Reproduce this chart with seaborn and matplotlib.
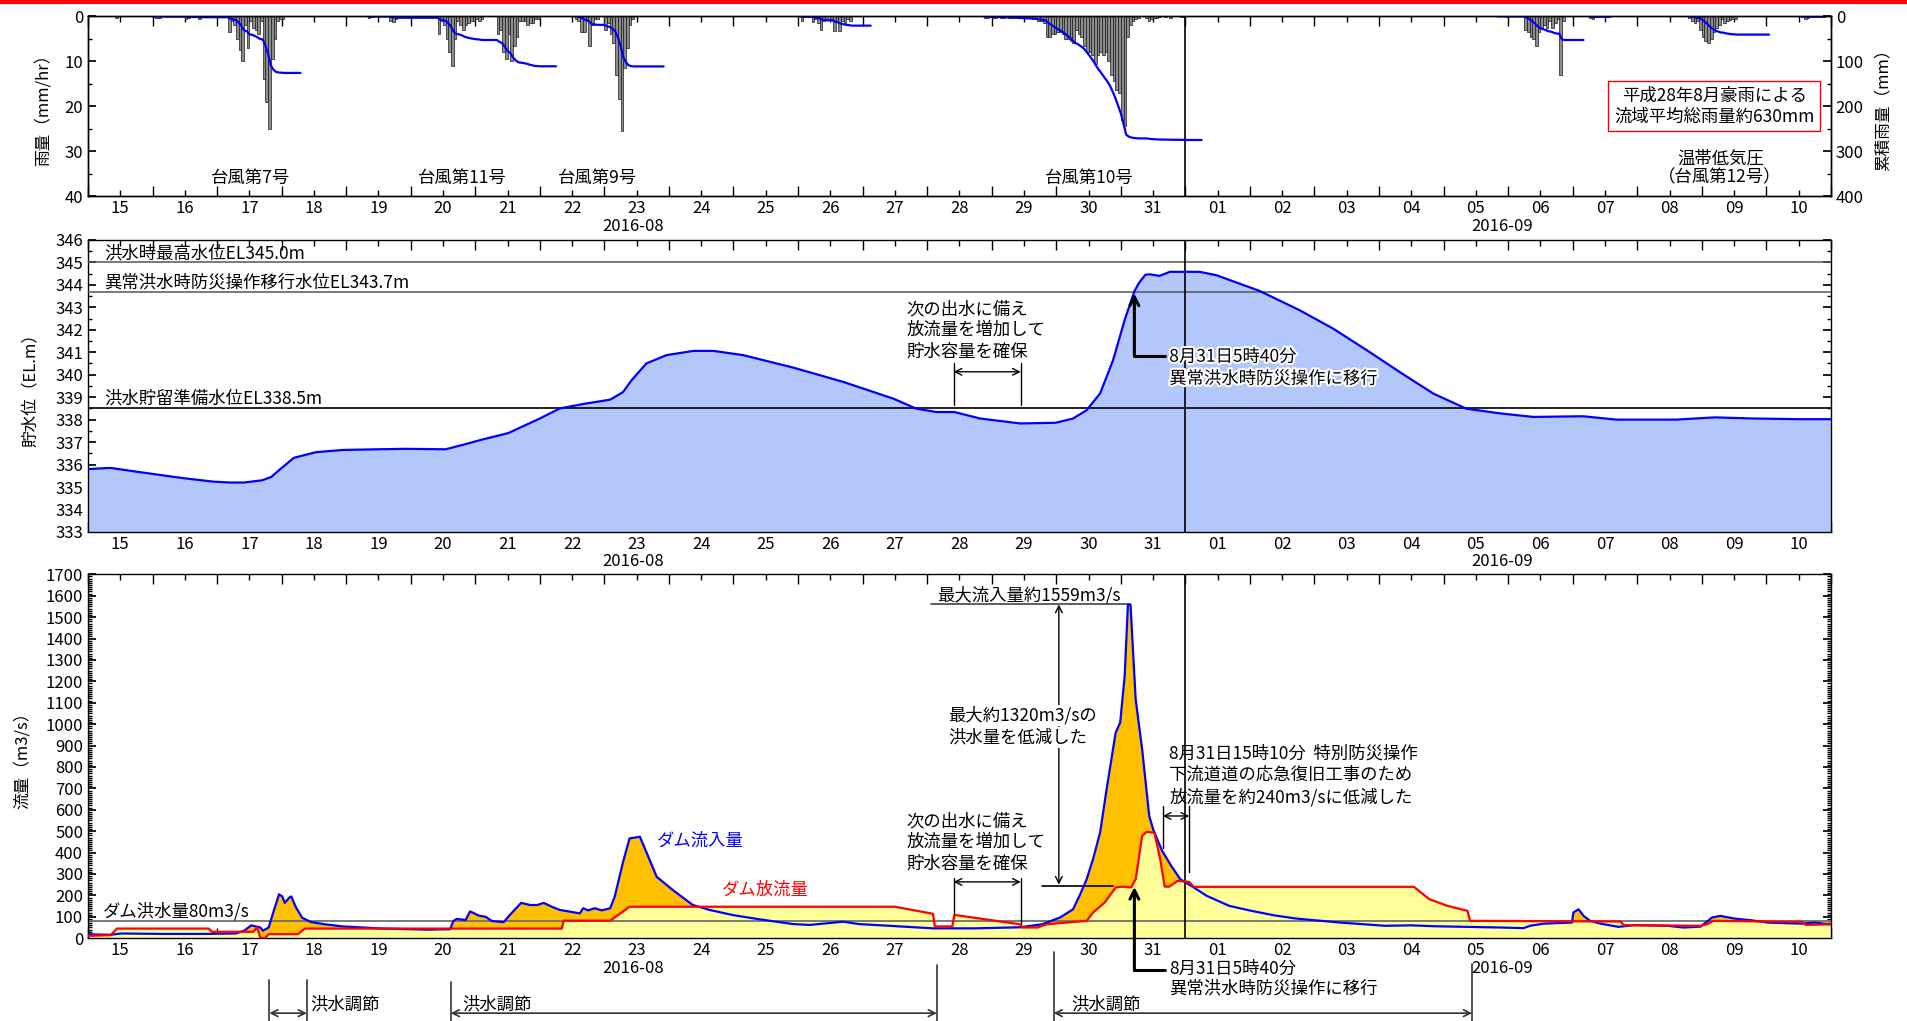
import numpy as np
import pandas as pd
import matplotlib
matplotlib.use("Agg")
import matplotlib.pyplot as plt
import matplotlib.dates as mdates
import matplotlib.ticker as ticker
import matplotlib.patheffects as pe
from matplotlib.lines import Line2D
import seaborn as sns

# ---- data (times are "day of August": 15.0 = Aug 15 00:00, 32.0 = Sep 1 00:00) ----

# hourly basin rainfall (mm/hr), one list per rain event, with event start time
rain_0815_start = 15 + 10 / 24
rain_0815 = [0.3]
typhoon7_start = 16.0
typhoon7 = [0, 0.3, 0.3, 0, 0, 0, 0, 0, 0, 0, 0, 0, 0.5, 0.4, 0, 0, 0, 0.5, 0, 0,
            0, 0, 0, 0, 0, 0, 0, 0,
            3.5, 1, 2, 5, 7.5, 10, 2, 7, 1, 2.5, 3, 4, 1, 14, 19, 25, 9.5, 5, 1, 0.5, 0.5,
            0, 0, 0, 0, 0, 0]
typhoon11_start = 19 + 8 / 24
typhoon11 = [0.3, 0.2, 0, 0, 0, 0, 0, 0, 1.0, 1.2, 0.5,
             0, 0, 0, 0, 0, 0, 0, 0, 0, 0, 0, 0, 0, 0, 0,
             4, 1, 2, 5, 8, 11, 5, 1, 2, 3, 2, 1.5, 1, 1, 0.5, 1, 0.5,
             0, 0, 0, 0, 0,
             4, 3, 8, 9.5, 4, 10, 6.5, 4.5, 1, 1, 1, 2, 1.5, 1.5, 0.5, 0.5,
             0, 0, 0, 0, 0, 0]
typhoon9_start = 22 + 13 / 24
typhoon9 = [0.5, 1, 3.5, 3.5, 1, 6.5, 2, 0.5, 0.5, 0, 0, 3, 1.5, 4, 6, 13, 18.5, 25.5,
            11.5, 7, 2, 0.5, 0, 0, 0, 0, 0, 0, 0, 0, 0, 0, 0]
rain_0826_start = 26 + 1 / 24
rain_0826 = [1, 0, 0, 0, 1.3, 0.5, 1.5, 3, 1, 0.5, 0, 0.5, 3.2, 1, 3.2, 1, 1.5, 0.5, 1,
             0, 0, 0, 0, 0, 0, 0]
typhoon10_start = 28 + 21 / 24
typhoon10 = [0.3, 0.3, 0.2, 0.3, 0.3, 0.2, 0.3, 0.3, 0.2, 0.3, 0.3, 0.2, 0.3, 0.3, 0.2,
             0.3, 0.3, 0.3,
             0.5, 0.5, 1, 1, 1.5, 4.5, 4.5, 4, 4, 3.5, 3.5, 4, 5, 5, 5.5, 6, 3, 4, 4.5,
             6.5, 8, 8, 8.5, 10.5, 8.5, 8, 8.5, 8, 10, 13, 14.5, 16.5, 17, 23, 24.5,
             4.5, 2, 1,
             0.5, 0.3, 0, 0, 0.3, 1, 0.5, 0.3, 0.3, 0.2, 0, 0.2, 0, 0.3, 0, 0, 0, 0.2,
             0.2, 0, 0, 0, 0, 0, 0]
rain_0906_start = 36 + 20 / 24
rain_0906 = [0, 0, 0, 0.2, 0, 0, 0, 0, 0, 0, 3, 3.5, 4.5, 5, 6.5, 3.5, 2.5, 2, 2.5, 1,
             2.5, 1.5, 0.5, 13, 1, 0, 0, 0, 0, 0, 0, 0]
rain_0907_start = 38 + 6 / 24
rain_0907 = [0.3, 0.5, 0.2, 0, 0, 0, 0, 0]
rain_0908_start = 39 + 19 / 24
rain_0908 = [0.3, 1, 1.5, 1, 3, 4.5, 5.5, 6, 5, 3.5, 2.5, 2, 0.5, 1.5, 1, 0.8, 0.5, 0.5,
             0, 0, 0, 0, 0, 0, 0, 0, 0, 0, 0, 0]
rain_0910_start = 41 + 13 / 24
rain_0910 = [0.2, 0.5, 0.3, 0, 0, 0, 0, 0, 0]

# reservoir water level (EL.m)
level_day = [15.0, 15.35, 15.76, 16.46, 16.94, 17.2, 17.42, 17.70, 17.84, 17.98, 18.19,
             18.53, 18.95, 19.5, 19.92, 20.54, 20.81, 21.09, 21.51, 22.0, 22.31, 22.68,
             23.09, 23.29, 23.42, 23.65, 23.96, 24.38, 24.69, 25.15, 25.92, 26.70, 27.47,
             27.83, 28.14, 28.42, 28.82, 29.44, 29.99, 30.26, 30.47, 30.68, 30.88, 31.06,
             31.21, 31.28, 31.38, 31.45, 31.6, 31.76, 32.22, 32.48, 33.15, 33.77, 34.29,
             34.81, 35.32, 35.84, 36.35, 36.87, 37.39, 38.16, 38.68, 39.2, 39.6, 40.2,
             40.8, 41.5, 42.0]
level = [335.8, 335.85, 335.68, 335.4, 335.24, 335.2, 335.2, 335.3, 335.45, 335.8, 336.3,
         336.55, 336.65, 336.68, 336.7, 336.68, 336.88, 337.1, 337.4, 338.05, 338.5, 338.7,
         338.89, 339.23, 339.75, 340.5, 340.87, 341.06, 341.06, 340.87, 340.32, 339.68,
         338.94, 338.49, 338.34, 338.34, 338.05, 337.83, 337.86, 338.05, 338.42, 339.17,
         340.65, 342.44, 343.71, 344.08, 344.45, 344.47, 344.4, 344.58, 344.58, 344.43,
         343.73, 342.87, 342.05, 341.09, 340.12, 339.16, 338.49, 338.28, 338.12, 338.15,
         338.0, 338.0, 338.0, 338.1, 338.05, 338.02, 338.02]

# dam inflow (m3/s)
inflow_day = [15.0, 15.35, 15.52, 16.11, 16.80, 17.29, 17.42, 17.53, 17.60, 17.67, 17.71,
              17.80, 17.87, 17.96, 18.01, 18.05, 18.12, 18.15, 18.22, 18.32, 18.46, 18.67,
              18.95, 19.57, 20.26, 20.61, 20.66, 20.71, 20.85, 20.92, 20.99, 21.06, 21.16,
              21.26, 21.44, 21.54, 21.71, 21.85, 21.96, 22.06, 22.20, 22.31, 22.62, 22.67,
              22.75, 22.85, 22.96, 23.09, 23.16, 23.29, 23.39, 23.47, 23.55, 23.68, 23.81,
              24.06, 24.37, 24.63, 24.99, 25.41, 25.92, 26.18, 26.70, 26.94, 27.47, 28.09,
              28.74, 29.44, 29.78, 30.06, 30.26, 30.37, 30.47, 30.57, 30.68, 30.78, 30.92,
              30.99, 31.06, 31.11, 31.15, 31.23, 31.33, 31.44, 31.50, 31.64, 31.78, 31.92,
              32.13, 32.33, 32.68, 33.02, 33.37, 33.71, 34.40, 35.09, 35.5, 35.84, 36.35,
              36.87, 37.24, 37.34, 37.55, 37.99, 38.01, 38.09, 38.17, 38.27, 38.43, 38.71,
              38.95, 39.46, 39.72, 39.98, 40.16, 40.29, 40.5, 40.76, 41.02, 41.54, 41.74,
              42.0]
inflow = [18, 16, 22, 20, 20, 22, 35, 60, 55, 50, 35,
          50, 120, 205, 195, 165, 190, 195, 145, 95, 75, 65,
          55, 45, 40, 42, 80, 90, 85, 125, 115, 105, 100,
          80, 75, 110, 165, 155, 155, 165, 145, 132, 116, 140,
          130, 140, 130, 140, 194, 357, 466, 470, 474, 381, 287,
          225, 155, 132, 108, 88, 66, 62, 77, 66, 57, 46,
          46, 51, 65, 97, 135, 205, 275, 370, 495, 696, 960,
          1007, 1225, 1559, 1559, 1116, 883, 571, 509, 408, 338, 276,
          237, 198, 151, 128, 107, 92, 73, 58, 60, 56, 53,
          50, 47, 58, 68, 73, 120, 135, 104, 81, 68, 53,
          61, 58, 50, 54, 97, 104, 92, 84, 73, 68, 73,
          65]

# dam outflow (m3/s)
outflow_day = [15.0, 15.35, 15.45, 16.87, 16.92, 17.56, 17.62, 17.67, 17.74, 17.80, 18.25,
               18.36, 22.34, 22.37, 23.09, 23.39, 27.5, 28.09, 28.12, 28.39, 28.42, 28.95,
               29.44, 29.47, 29.71, 29.85, 30.47, 30.57, 30.75, 30.92, 31.02, 31.16, 31.23,
               31.33, 31.40, 31.52, 31.61, 31.68, 31.75, 31.88, 32.06, 32.13, 35.54, 35.78,
               36.06, 36.37, 36.41, 38.74, 38.79, 39.98, 40.08, 40.18, 41.56, 41.61, 42.0]
outflow = [11, 14, 45, 45, 30, 30, 50, 3, 0, 19, 19,
           45, 45, 82, 82, 147, 147, 114, 55, 55, 109, 86,
           65, 50, 50, 65, 81, 120, 167, 237, 241, 237, 276,
           478, 497, 493, 369, 241, 241, 268, 263, 240, 240, 182,
           151, 128, 81, 78, 61, 58, 65, 81, 76, 62, 65]

FS = 12.5
BASE = mdates.date2num(pd.Timestamp("2016-07-31"))


def t(d):
    return BASE + np.asarray(d, dtype=float)


sns.set_theme(style="white")
plt.rcParams['font.family'] = ['Noto Sans CJK JP', 'DejaVu Sans']
plt.rcParams.update({'text.color': 'black', 'axes.labelcolor': 'black',
                     'xtick.color': 'black', 'ytick.color': 'black',
                     'axes.edgecolor': 'black', 'axes.linewidth': 1.0,
                     'axes.unicode_minus': False})

fig = plt.figure(figsize=(19.08, 10.21), dpi=100)
L, W = 0.0461, 0.9135
ax1 = fig.add_axes([L, 0.808, W, 0.176])
ax2 = fig.add_axes([L, 0.479, W, 0.286], sharex=ax1)
ax3 = fig.add_axes([L, 0.0811, W, 0.3564], sharex=ax1)
ax1r = ax1.twinx()

fig.add_artist(Line2D([0, 1], [0.9985, 0.9985], color='red', lw=3, transform=fig.transFigure))
NOW = 32.0

# ---- rainfall ----
events = [(rain_0815_start, rain_0815), (typhoon7_start, typhoon7),
          (typhoon11_start, typhoon11), (typhoon9_start, typhoon9),
          (rain_0826_start, rain_0826), (typhoon10_start, typhoon10),
          (rain_0906_start, rain_0906), (rain_0907_start, rain_0907),
          (rain_0908_start, rain_0908), (rain_0910_start, rain_0910)]
for start, vals in events:
    vals = np.array(vals, dtype=float)
    hrs = np.arange(len(vals))
    ax1.bar(t(start + hrs / 24 + 1 / 48), vals, width=1 / 24, color='#8c8c8c',
            edgecolor='#1a1a1a', linewidth=0.5, zorder=2)
    if len(vals) > 1:
        cum = np.concatenate([[0], np.cumsum(vals)])
        sns.lineplot(x=t(start + np.arange(len(vals) + 1) / 24), y=cum, ax=ax1r,
                     color='#0000ff', lw=1.6)

ax1.set_ylim(40, 0)
ax1r.set_ylim(400, 0)
ax1.yaxis.set_major_locator(ticker.MultipleLocator(10))
ax1.yaxis.set_minor_locator(ticker.MultipleLocator(5))
ax1r.yaxis.set_major_locator(ticker.MultipleLocator(100))
ax1r.yaxis.set_minor_locator(ticker.MultipleLocator(50))
ax1.set_ylabel('雨量（mm/hr）', fontsize=12)
ax1r.set_ylabel('累積雨量（mm）', fontsize=12)
ax1.yaxis.set_label_coords(-0.021, 0.5)
ax1r.yaxis.set_label_coords(1.025, 0.5)
ax1.axvline(t(NOW), color='black', lw=1.2, zorder=3)

for x, y, s in [(17.52, 35.9, '台風第7号'), (20.80, 35.9, '台風第11号'),
                (22.90, 35.9, '台風第9号'), (30.51, 35.9, '台風第10号'),
                (40.29, 31.6, '温帯低気圧'), (40.27, 35.9, '（台風第12号）')]:
    ax1.text(t(x), y, s, ha='center', va='center', fontsize=FS)
ax1.text(0.933, 0.5, '平成28年8月豪雨による\n流域平均総雨量約630mm', transform=ax1.transAxes,
         ha='center', va='center', fontsize=FS, linespacing=1.2,
         bbox=dict(facecolor='white', edgecolor='red', lw=1.0, pad=4), zorder=5)

# ---- water level ----
ax2.fill_between(t(level_day), 333, level, color='#b4c7fa', lw=0, zorder=1)
sns.lineplot(x=t(level_day), y=level, ax=ax2, color='#0000ff', lw=1.6, zorder=4)
ax2.axhline(345.0, color='#555555', lw=1.1, zorder=3)
ax2.axhline(343.7, color='#555555', lw=1.1, zorder=3)
ax2.axhline(338.5, color='black', lw=1.2, zorder=3)
ax2.axvline(t(NOW), color='black', lw=1.2, zorder=3)
ax2.set_ylim(333, 346)
ax2.yaxis.set_major_locator(ticker.MultipleLocator(1))
ax2.yaxis.set_minor_locator(ticker.MultipleLocator(0.5))
ax2.set_ylabel('貯水位（EL.m）', fontsize=12)
ax2.yaxis.set_label_coords(-0.028, 0.5)

ax2.text(t(15.25), 345.42, '洪水時最高水位EL345.0m', va='center', fontsize=FS)
ax2.text(t(15.25), 344.12, '異常洪水時防災操作移行水位EL343.7m', va='center', fontsize=FS)
ax2.text(t(15.25), 338.96, '洪水貯留準備水位EL338.5m', va='center', fontsize=FS)
for y, s in zip([342.91, 341.99, 341.02], ['次の出水に備え', '放流量を増加して', '貯水容量を確保']):
    ax2.text(t(27.68), y, s, va='center', fontsize=FS)
arw = dict(arrowstyle='<->', color='black', lw=1.0, shrinkA=0, shrinkB=0, mutation_scale=12)
ax2.annotate('', xy=(t(29.45), 340.13), xytext=(t(28.41), 340.13), arrowprops=arw)
ax2.plot([t(28.41)] * 2, [338.65, 340.5], color='black', lw=1.0)
ax2.plot([t(29.45)] * 2, [338.65, 340.5], color='black', lw=1.0)
thick = dict(arrowstyle='->', color='black', lw=2.2, shrinkA=0, shrinkB=0, mutation_scale=16)
ax2.annotate('', xy=(t(31.21), 343.62), xytext=(t(31.21), 340.85), arrowprops=thick, zorder=6)
ax2.plot([t(31.21), t(31.68)], [340.85] * 2, color='black', lw=2.2, zorder=6)
halo = [pe.withStroke(linewidth=3, foreground='white')]
ax2.text(t(31.75), 340.8, '8月31日5時40分', va='center', fontsize=FS, path_effects=halo, zorder=7)
ax2.text(t(31.75), 339.82, '異常洪水時防災操作に移行', va='center', fontsize=FS,
         path_effects=halo, zorder=7)

# ---- inflow / outflow ----
ax3.fill_between(t(inflow_day), 0, inflow, color='#ffc000', lw=0, zorder=1)
ax3.fill_between(t(outflow_day), 0, outflow, color='#ffff99', lw=0, zorder=1.5)
ax3.axhline(80, color='#707070', lw=1.3, zorder=2)
sns.lineplot(x=t(inflow_day), y=inflow, ax=ax3, color='#0000ff', lw=1.6, zorder=4)
sns.lineplot(x=t(outflow_day), y=outflow, ax=ax3, color='#ff0000', lw=1.6, zorder=4)
ax3.axvline(t(NOW), color='black', lw=1.2, zorder=3)
ax3.set_ylim(0, 1700)
ax3.yaxis.set_major_locator(ticker.MultipleLocator(100))
ax3.yaxis.set_minor_locator(ticker.MultipleLocator(10))
ax3.set_ylabel('流量（m3/s）', fontsize=12)
ax3.yaxis.set_label_coords(-0.033, 0.5)

ax3.text(t(23.82), 455, 'ダム流入量', color='#0000ff', va='center', fontsize=FS)
ax3.text(t(24.82), 227, 'ダム放流量', color='#ff0000', va='center', fontsize=FS)
ax3.text(t(15.23), 125, 'ダム洪水量80m3/s', va='center', fontsize=FS)
ax3.text(t(28.15), 1603, '最大流入量約1559m3/s', va='center', fontsize=FS)
ax3.plot([t(28.06), t(31.12)], [1559, 1559], color='#444444', lw=1.2, zorder=3)
ax3.plot([t(29.78), t(30.88)], [244, 244], color='black', lw=1.2, zorder=3)
ax3.annotate('', xy=(t(30.04), 1559), xytext=(t(30.04), 250), arrowprops=arw, zorder=4)
for y, s in zip([1040, 938], ['最大約1320m3/sの', '洪水量を低減した']):
    ax3.text(t(28.32), y, s, va='center', fontsize=FS, zorder=6,
             bbox=dict(facecolor='white', edgecolor='none', pad=1))
for y, s in zip([546, 449, 347], ['次の出水に備え', '放流量を増加して', '貯水容量を確保']):
    ax3.text(t(27.68), y, s, va='center', fontsize=FS)
ax3.annotate('', xy=(t(29.45), 263), xytext=(t(28.41), 263), arrowprops=arw)
ax3.plot([t(28.41)] * 2, [96, 283], color='black', lw=1.0)
ax3.plot([t(29.45)] * 2, [57, 283], color='black', lw=1.0)
for y, s in zip([864, 762, 659], ['8月31日15時10分  特別防災操作', '下流道道の応急復旧工事のため',
                                  '放流量を約240m3/sに低減した']):
    ax3.text(t(31.75), y, s, va='center', fontsize=FS)
ax3.annotate('', xy=(t(32.06), 571), xytext=(t(31.65), 571), arrowprops=arw)
ax3.plot([t(31.65)] * 2, [423, 618], color='black', lw=1.0)
ax3.plot([t(32.06)] * 2, [307, 618], color='black', lw=1.0)

# below-axis notes
tr = ax3.get_xaxis_transform()
ax3.annotate('', xy=(t(31.21), 240), xycoords='data', xytext=(t(31.21), -0.088),
             textcoords=tr, arrowprops=thick, annotation_clip=False, zorder=6)
ax3.plot([t(31.21), t(31.68)], [-0.088, -0.088], transform=tr, clip_on=False,
         color='black', lw=2.2)
ax3.text(t(31.75), -0.0835, '8月31日5時40分', transform=tr, va='center', fontsize=FS)
ax3.text(t(31.75), -0.137, '異常洪水時防災操作に移行', transform=tr, va='center', fontsize=FS)

for x0, x1, top0, top1, xt in [(17.81, 18.39, -0.115, -0.115, 18.45),
                               (20.62, 28.15, -0.12, -0.074, 20.80),
                               (29.96, 36.44, -0.037, -0.07, 30.23)]:
    ax3.plot([t(x0)] * 2, [top0, -0.3], transform=tr, clip_on=False, color='#333333', lw=1.2)
    ax3.plot([t(x1)] * 2, [top1, -0.3], transform=tr, clip_on=False, color='#333333', lw=1.2)
    ax3.annotate('', xy=(t(x1), -0.206), xytext=(t(x0), -0.206), xycoords=tr, textcoords=tr,
                 arrowprops=dict(arrowstyle='<->', color='#333333', lw=1.2, shrinkA=0,
                                 shrinkB=0, mutation_scale=12), annotation_clip=False)
    ax3.text(t(xt), -0.181, '洪水調節', transform=tr, va='center', fontsize=FS)

# ---- shared x axis styling ----
for ax in (ax1, ax2, ax3):
    ax.set_xlim(t(15), t(42))
    ax.xaxis.set_major_locator(mdates.DayLocator())
    ax.xaxis.set_major_formatter(ticker.NullFormatter())
    ax.xaxis.set_minor_locator(mdates.HourLocator(byhour=[12]))
    ax.xaxis.set_minor_formatter(mdates.DateFormatter('%d'))
    ax.tick_params(axis='x', which='both', direction='in', bottom=True, top=True,
                   labelbottom=True)
    ax.tick_params(axis='x', which='major', length=7, width=1)
    ax.tick_params(axis='x', which='minor', length=4, width=1, labelsize=12, pad=3)
    ax.set_xlabel('')
    ax.annotate('2016-08', xy=(t(23.44), 0), xycoords=('data', 'axes fraction'),
                xytext=(0, -30), textcoords='offset pixels', ha='center', va='center',
                fontsize=12)
    ax.annotate('2016-09', xy=(t(36.91), 0), xycoords=('data', 'axes fraction'),
                xytext=(0, -30), textcoords='offset pixels', ha='center', va='center',
                fontsize=12)

for ax in (ax1, ax2, ax3, ax1r):
    ax.tick_params(axis='y', which='major', direction='in', length=6, labelsize=12)
    ax.tick_params(axis='y', which='minor', direction='in', length=3)
ax1.tick_params(axis='y', which='both', left=True, right=False)
ax1r.tick_params(axis='y', which='both', left=False, right=True, labelright=True)
ax2.tick_params(axis='y', which='both', left=True, right=True)
ax3.tick_params(axis='y', which='both', left=True, right=True)

fig.savefig('out.png', dpi=100, facecolor='white')
